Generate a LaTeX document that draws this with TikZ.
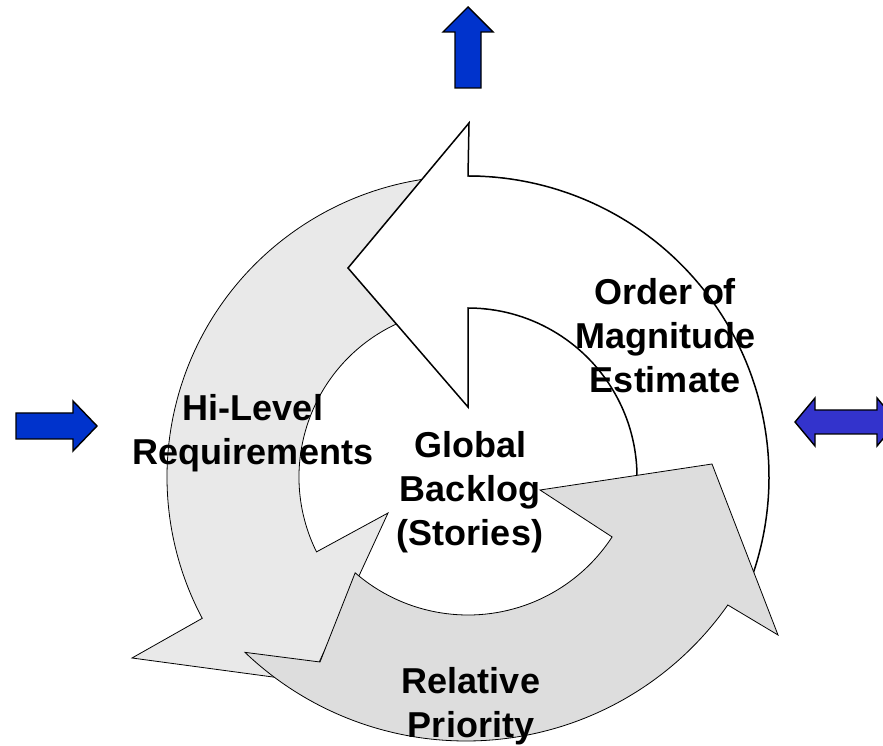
\documentclass[tikz,border=0pt]{standalone}
\usepackage{fontspec}
\setmainfont{Liberation Sans}
\begin{document}
\begin{tikzpicture}[x=1pt,y=1pt,
  ringlight/.style={draw=black,line width=0.8pt,fill=ringgrayA,line join=miter},
  ringwhite/.style={draw=black,line width=1.5pt,fill=white,line join=miter},
  ringdark/.style={draw=black,line width=0.8pt,fill=ringgrayB,line join=miter},
  bluearrow/.style={draw=black,line width=1.4pt,fill=arrowblue,line join=miter},
  dblarrow/.style={draw=black,line width=1.4pt,fill=arrowviolet,line join=miter},
  lbl/.style={font=\bfseries\fontsize{36}{44}\selectfont,align=center,inner sep=0pt,anchor=base}]
\definecolor{ringgrayA}{HTML}{E9E9E9}
\definecolor{ringgrayB}{HTML}{DDDDDD}
\definecolor{arrowblue}{HTML}{0033CC}
\definecolor{arrowviolet}{HTML}{3333CC}
\useasboundingbox (0,0) rectangle (883,745);
\clip (0,0) rectangle (883,745);

% centres of the ring arcs
\coordinate (cA) at (468,268);
\coordinate (cBin) at (468,302);
\coordinate (cBout) at (466,324);

% Hi-Level Requirements arrow (left side, pointing down)
\draw[ringlight]
  ([shift={(468,268)}]80:301) arc[start angle=80,end angle=208,radius=301pt]
  -- (132,87) -- (310,63) -- (388,232)
  -- ([shift={(468,268)}]206.3:169) arc[start angle=206.3,end angle=80,radius=169pt]
  -- cycle;

% Order of Magnitude Estimate arrow (right side, pointing left at the top)
\draw[ringwhite]
  ([shift={(468,268)}]-22:301) arc[start angle=-22,end angle=90,radius=301pt]
  -- (469,622) -- (348,477) -- (468,338)
  -- ([shift={(468,268)}]90:169) arc[start angle=90,end angle=-13,radius=169pt]
  -- cycle;

% Relative Priority arrow (bottom, pointing up on the right)
\draw[ringdark]
  ([shift={(466,324)}]226.3:320) -- (320,83)
  -- ([shift={(468,302)}]229:172) arc[start angle=229,end angle=326.9,radius=172pt]
  -- (540,255) -- (712,281) -- (778,110)
  -- ([shift={(466,324)}]-35.1:320) arc[start angle=-35.1,end angle=-133.7,radius=320pt]
  -- cycle;

% block arrows around the cycle
\draw[bluearrow] (455,657) -- (455,713) -- (443,713) -- (468,738) -- (493,713)
  -- (481,713) -- (481,657) -- cycle;
\draw[bluearrow] (16,306) -- (16,332) -- (73,332) -- (73,344) -- (97,319)
  -- (73,294) -- (73,306) -- cycle;
\draw[dblarrow] (795,323) -- (815,347) -- (815,335) -- (877,335) -- (877,347)
  -- (897,323) -- (877,299) -- (877,311) -- (815,311) -- (815,299) -- cycle;

% labels (anchored at the baseline of their last line)
\node[lbl] (ome) at (665,352) {Order of\\Magnitude\\Estimate};
\node[lbl] (hlr) at (253,280) {Hi-Level\\Requirements};
\node[lbl] (gbs) at (470,200) {Global\\Backlog\\(Stories)};
\node[lbl] (rp)  at (471,8)   {Relative\\Priority};
\end{tikzpicture}
\end{document}
